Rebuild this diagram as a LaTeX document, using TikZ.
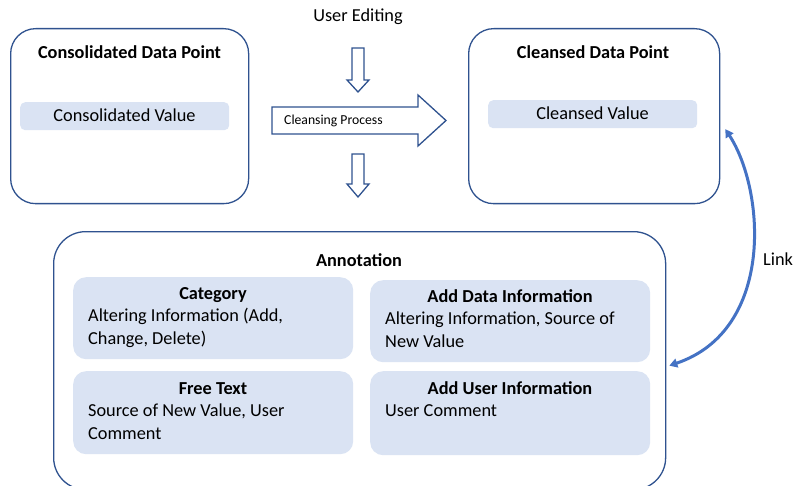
\documentclass[tikz,border=0pt]{standalone}
\usepackage{fontspec}
\setmainfont{Carlito}
\usetikzlibrary{arrows.meta}
\definecolor{edgeblue}{HTML}{2F528F}
\definecolor{palefill}{HTML}{DAE3F3}
\definecolor{linkblue}{HTML}{4472C4}
\tikzset{
  framebox/.style={draw=edgeblue, line width=1.3pt, rounded corners=25pt, fill=white, anchor=north west, inner sep=0pt},
  annotbox/.style={framebox, rounded corners=32pt},
  valuebox/.style={fill=palefill, rounded corners=5pt, anchor=north west, inner sep=0pt},
  fieldbox/.style={fill=palefill, rounded corners=13pt, anchor=north west, inner sep=0pt},
  blockarrow/.style={draw=edgeblue, line width=1.3pt, fill=white, line join=miter},
  txt/.style={font=\fontsize{18.3}{22.5}\selectfont, inner sep=0pt, anchor=base},
  boldtxt/.style={txt, font=\fontsize{18.3}{22.5}\selectfont\bfseries},
  % multi-line text: the base anchor sits on the last line
  bodytxt/.style={txt, anchor=base west, align=left},
  smalltxt/.style={font=\fontsize{13.7}{16}\selectfont, inner sep=0pt, anchor=base west},
  linkline/.style={draw=linkblue, line width=3pt, {Triangle[length=8pt,width=9pt]}-{Triangle[length=8pt,width=9pt]}}
}
\begin{document}
\begin{tikzpicture}[x=1pt, y=-1pt]
\useasboundingbox (0,0) rectangle (794,486);
\clip (0,0) rectangle (794,486);

% source and result data points
\node[framebox, minimum width=238pt, minimum height=175pt] (cons) at (10,28) {};
\node[boldtxt] (constitle) at (129.5,59) {Consolidated Data Point};
\node[valuebox, minimum width=209pt, minimum height=28pt] (consval) at (20,102) {};
\node[txt] (consvaltxt) at (124.5,122) {Consolidated Value};

\node[framebox, minimum width=251pt, minimum height=175pt] (clean) at (468,28) {};
\node[boldtxt] (cleantitle) at (593,59) {Cleansed Data Point};
\node[valuebox, minimum width=209pt, minimum height=28pt] (cleanval) at (488,100) {};
\node[txt] (cleanvaltxt) at (592.5,120) {Cleansed Value};

% cleansing step
\node[txt] (editing) at (358,22) {User Editing};
\path[blockarrow] (352,48) -- (364,48) -- (364,80) -- (369,80) -- (358,92) -- (347,80) -- (352,80) -- cycle;
\path[blockarrow] (272,107) -- (418,107) -- (418,95) -- (446,120.5) -- (418,146) -- (418,134) -- (272,134) -- cycle;
\node[smalltxt] (process) at (284,125) {Cleansing Process};
\path[blockarrow] (352,154) -- (364,154) -- (364,184) -- (369,184) -- (358,197) -- (347,184) -- (352,184) -- cycle;

% annotation record
\node[annotbox, minimum width=612pt, minimum height=258pt] (annot) at (53,231) {};
\node[boldtxt] (annottitle) at (359,266) {Annotation};

\node[fieldbox, minimum width=280pt, minimum height=82pt] (category) at (73,277) {};
\node[boldtxt] (cattitle) at (213,299) {Category};
\node[bodytxt] (catbody) at (88,344) {Altering Information (Add,\\Change, Delete)};

\node[fieldbox, minimum width=280pt, minimum height=83pt] (free) at (73,371) {};
\node[boldtxt] (freetitle) at (213,394) {Free Text};
\node[bodytxt] (freebody) at (88,439) {Source of New Value, User\\Comment};

\node[fieldbox, minimum width=280pt, minimum height=82pt] (datainfo) at (370,280) {};
\node[boldtxt] (datatitle) at (510,302) {Add Data Information};
\node[bodytxt] (databody) at (385,347) {Altering Information, Source of\\New Value};

\node[fieldbox, minimum width=280pt, minimum height=84pt] (userinfo) at (370,371) {};
\node[boldtxt] (usertitle) at (510,394) {Add User Information};
\node[bodytxt] (userbody) at (385,416.5) {User Comment};

% link between cleansed value and annotation
\draw[linkline] ([shift={(5,13)}]clean.east) .. controls (765,190) and (775,330) .. ([shift={(3,5)}]annot.east);
\node[txt, anchor=base west] (linklabel) at (763,265) {Link};
\end{tikzpicture}
\end{document}
